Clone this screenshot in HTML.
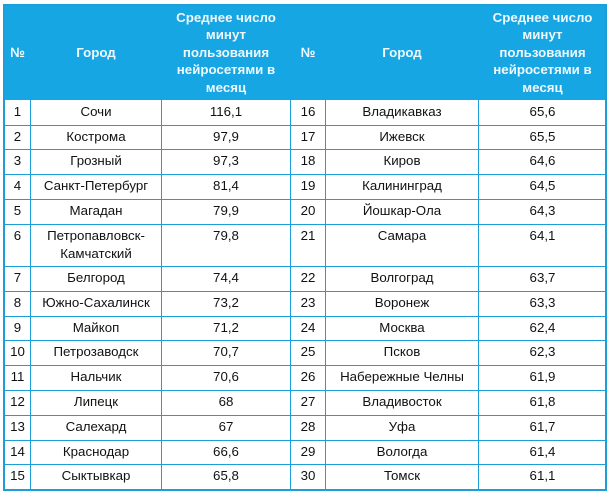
<!DOCTYPE html>
<html><head><meta charset="utf-8">
<style>
html,body{margin:0;padding:0;background:#fff;}
body{width:613px;height:496px;position:relative;overflow:hidden;font-family:"Liberation Sans","Noto Sans CJK SC",sans-serif;color:#111;}
.hd{position:absolute;left:4px;top:5px;width:602px;height:95px;background:#16a6e4;}
.h{position:absolute;top:5px;height:95px;display:flex;align-items:center;justify-content:center;text-align:center;font-weight:bold;font-size:13.3px;line-height:17.5px;color:#eef8fd;}
.hl{position:absolute;left:4px;width:602px;height:1px;background:#1c9fd9;}
.vl{position:absolute;top:100px;height:389px;width:1px;background:#1c9fd9;}
.ob{position:absolute;left:3px;top:4px;width:600px;height:483px;border:2px solid #1c9fd9;}
.r{position:absolute;left:0;width:613px;height:10px;}
.c{position:absolute;top:3px;text-align:center;line-height:18px;font-size:13.3px;white-space:nowrap;}
.c1{left:4px;width:27px}.c2{left:31px;width:130px}.c3{left:162px;width:128px}
.c4{left:291px;width:34px}.c5{left:326px;width:152px}.c6{left:479px;width:127px}
</style></head><body>
<div class="hd"></div>
<div class="h c1" style="left:4px;width:27px">№</div>
<div class="h" style="left:31px;width:130px">Город</div>
<div class="h" style="left:162px;width:128px">Среднее число<br>минут<br>пользования<br>нейросетями в<br>месяц</div>
<div class="h" style="left:291px;width:34px">№</div>
<div class="h" style="left:326px;width:152px">Город</div>
<div class="h" style="left:479px;width:127px">Среднее число<br>минут<br>пользования<br>нейросетями в<br>месяц</div>

<div class="hl" style="top:125px"></div>
<div class="hl" style="top:149px"></div>
<div class="hl" style="top:174px"></div>
<div class="hl" style="top:199px"></div>
<div class="hl" style="top:224px"></div>
<div class="hl" style="top:266px"></div>
<div class="hl" style="top:291px"></div>
<div class="hl" style="top:316px"></div>
<div class="hl" style="top:340px"></div>
<div class="hl" style="top:365px"></div>
<div class="hl" style="top:390px"></div>
<div class="hl" style="top:415px"></div>
<div class="hl" style="top:440px"></div>
<div class="hl" style="top:464px"></div>

<div class="vl" style="left:30px"></div>
<div class="vl" style="left:161px"></div>
<div class="vl" style="left:290px"></div>
<div class="vl" style="left:325px"></div>
<div class="vl" style="left:478px"></div>
<div class="ob"></div>

<div class="r" style="top:100px"><div class="c c1">1</div><div class="c c2">Сочи</div><div class="c c3">116,1</div><div class="c c4">16</div><div class="c c5">Владикавказ</div><div class="c c6">65,6</div></div>
<div class="r" style="top:125px"><div class="c c1">2</div><div class="c c2">Кострома</div><div class="c c3">97,9</div><div class="c c4">17</div><div class="c c5">Ижевск</div><div class="c c6">65,5</div></div>
<div class="r" style="top:149px"><div class="c c1">3</div><div class="c c2">Грозный</div><div class="c c3">97,3</div><div class="c c4">18</div><div class="c c5">Киров</div><div class="c c6">64,6</div></div>
<div class="r" style="top:174px"><div class="c c1">4</div><div class="c c2">Санкт-Петербург</div><div class="c c3">81,4</div><div class="c c4">19</div><div class="c c5">Калининград</div><div class="c c6">64,5</div></div>
<div class="r" style="top:199px"><div class="c c1">5</div><div class="c c2">Магадан</div><div class="c c3">79,9</div><div class="c c4">20</div><div class="c c5">Йошкар-Ола</div><div class="c c6">64,3</div></div>
<div class="r" style="top:224px"><div class="c c1">6</div><div class="c c2">Петропавловск-<br>Камчатский</div><div class="c c3">79,8</div><div class="c c4">21</div><div class="c c5">Самара</div><div class="c c6">64,1</div></div>
<div class="r" style="top:266px"><div class="c c1">7</div><div class="c c2">Белгород</div><div class="c c3">74,4</div><div class="c c4">22</div><div class="c c5">Волгоград</div><div class="c c6">63,7</div></div>
<div class="r" style="top:291px"><div class="c c1">8</div><div class="c c2">Южно-Сахалинск</div><div class="c c3">73,2</div><div class="c c4">23</div><div class="c c5">Воронеж</div><div class="c c6">63,3</div></div>
<div class="r" style="top:316px"><div class="c c1">9</div><div class="c c2">Майкоп</div><div class="c c3">71,2</div><div class="c c4">24</div><div class="c c5">Москва</div><div class="c c6">62,4</div></div>
<div class="r" style="top:340px"><div class="c c1">10</div><div class="c c2">Петрозаводск</div><div class="c c3">70,7</div><div class="c c4">25</div><div class="c c5">Псков</div><div class="c c6">62,3</div></div>
<div class="r" style="top:365px"><div class="c c1">11</div><div class="c c2">Нальчик</div><div class="c c3">70,6</div><div class="c c4">26</div><div class="c c5">Набережные Челны</div><div class="c c6">61,9</div></div>
<div class="r" style="top:390px"><div class="c c1">12</div><div class="c c2">Липецк</div><div class="c c3">68</div><div class="c c4">27</div><div class="c c5">Владивосток</div><div class="c c6">61,8</div></div>
<div class="r" style="top:415px"><div class="c c1">13</div><div class="c c2">Салехард</div><div class="c c3">67</div><div class="c c4">28</div><div class="c c5">Уфа</div><div class="c c6">61,7</div></div>
<div class="r" style="top:440px"><div class="c c1">14</div><div class="c c2">Краснодар</div><div class="c c3">66,6</div><div class="c c4">29</div><div class="c c5">Вологда</div><div class="c c6">61,4</div></div>
<div class="r" style="top:464px"><div class="c c1">15</div><div class="c c2">Сыктывкар</div><div class="c c3">65,8</div><div class="c c4">30</div><div class="c c5">Томск</div><div class="c c6">61,1</div></div>
</body></html>
